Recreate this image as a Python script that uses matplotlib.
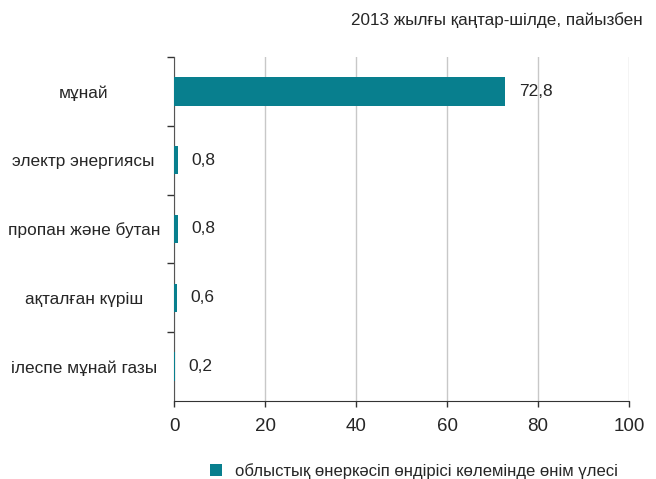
import matplotlib
matplotlib.use("Agg")
import matplotlib.pyplot as plt
from matplotlib.patches import Patch
from matplotlib.ticker import FixedLocator

categories = ["мұнай", "электр энергиясы", "пропан және бутан", "ақталған күріш", "ілеспе мұнай газы"]
values = [72.8, 0.8, 0.8, 0.6, 0.2]
value_labels = ["72,8", "0,8", "0,8", "0,6", "0,2"]
x_ticks = [0, 20, 40, 60, 80, 100]

subtitle = "2013 жылғы қаңтар-шілде, пайызбен"
legend_label = "облыстық өнеркәсіп өндірісі көлемінде өнім үлесі"

teal = "#087f8e"
text_color = "#262626"

plt.rcParams["font.family"] = ["Liberation Sans", "DejaVu Sans"]

fig = plt.figure(figsize=(6.56, 4.79), dpi=100)
ax = fig.add_axes([174 / 656, 78 / 479, 455 / 656, 344 / 479])

pos = list(range(len(categories)))
ax.barh(pos, values, height=0.41, color=teal, zorder=3)
ax.set_ylim(len(categories) - 0.5, -0.5)
ax.set_xlim(0, 100)

for p, v, lab in zip(pos, values, value_labels):
    ax.annotate(lab, (v, p), xytext=(10, 0), textcoords="offset points",
                ha="left", va="center", fontsize=12.5, color=text_color)

ax.set_xticks(x_ticks)
ax.set_xticklabels([str(t) for t in x_ticks], fontsize=13.5, color=text_color)
ax.set_yticks(pos)
ax.set_yticklabels(categories, fontsize=12.4, color=text_color, ha="center")
ax.yaxis.set_minor_locator(FixedLocator([i - 0.5 for i in range(len(categories))]))
ax.tick_params(axis="y", which="major", length=0, pad=65)
ax.tick_params(axis="y", which="minor", length=5, width=1, color="#333333", direction="out")
ax.tick_params(axis="x", which="major", length=4, width=1, color="#333333", direction="out", pad=8)

ax.grid(axis="x", color="#c8c8c8", linewidth=1, zorder=0)
ax.set_axisbelow(True)
for s in ["top", "right"]:
    ax.spines[s].set_visible(False)
ax.spines["left"].set_color("#555555")
ax.spines["bottom"].set_color("#333333")

fig.text(643 / 656, 1 - 20 / 479, subtitle, ha="right", va="center", fontsize=12.3, color=text_color)

handle = Patch(facecolor=teal, edgecolor="none")
fig.legend([handle], [legend_label], loc="center", bbox_to_anchor=(414 / 656, 1 - 471 / 479),
           frameon=False, fontsize=12, handlelength=0.75, handleheight=0.75, handletextpad=0.8,
           labelcolor=text_color)

fig.savefig("out.png", dpi=100)
